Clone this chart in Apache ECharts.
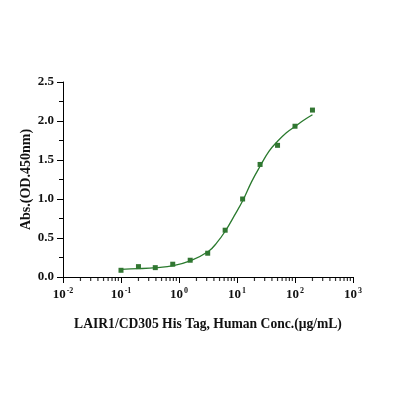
<!DOCTYPE html>
<html><head><meta charset="utf-8">
<script src="https://cdn.jsdelivr.net/npm/echarts@6/dist/echarts.min.js"></script>
<style>html,body{margin:0;padding:0;background:#fff}#c{width:395px;height:395px}</style>
</head><body><div id="c"></div>
<script>
const concentrations = [0.1, 0.2, 0.39, 0.78, 1.56, 3.125, 6.25, 12.5, 25, 50, 100, 200];
const absorbance = [0.086, 0.133, 0.12, 0.164, 0.215, 0.305, 0.60, 1.00, 1.443, 1.688, 1.933, 2.14];
const curveX = [0.1, 0.2, 0.4, 0.8, 1.6, 3.2, 4.5, 6.3, 8.9, 12.6, 17.8, 25, 35.5, 50, 71, 100, 141, 200];
const curveY = [0.099, 0.107, 0.12, 0.146, 0.21, 0.326, 0.44, 0.59, 0.78, 0.98, 1.22, 1.42, 1.61, 1.74, 1.85, 1.93, 2.01, 2.08];
const yTicks = [0, 0.5, 1.0, 1.5, 2.0, 2.5];
const xMajorTicks = [0.01, 0.1, 1, 10, 100, 1000];
const xMinorMultipliers = [2, 3, 4, 5, 6, 7, 8, 9];
const xName = 'LAIR1/CD305 His Tag, Human Conc.(μg/mL)';
const yName = 'Abs.(OD.450nm)';

const xMinorTicks = [];
xMajorTicks.slice(0, -1).forEach(d => xMinorMultipliers.forEach(m => xMinorTicks.push(+(d * m).toPrecision(3))));

const font = '"Liberation Serif", "Times New Roman", serif';
const chart = echarts.init(document.getElementById('c'));
chart.setOption({
  animation: false,
  grid: {left: 63, right: 42, top: 82, bottom: 118},
  xAxis: {
    type: 'log', logBase: 10, min: 0.01, max: 1000,
    name: xName, nameLocation: 'middle', nameGap: 40,
    nameTextStyle: {fontFamily: font, fontWeight: 'bold', fontSize: 13.6, color: '#111'},
    axisLine: {lineStyle: {color: '#000', width: 1}},
    axisTick: {show: true, inside: false, length: 6, lineStyle: {color: '#000', width: 1}},
    minorTick: {show: false},
    splitLine: {show: false},
    axisLabel: {
      margin: 10,
      formatter: function (v) {
        const e = Math.round(Math.log10(v));
        return '{b|10}{s|' + e + '}';
      },
      rich: {
        b: {fontFamily: font, fontWeight: 'bold', fontSize: 13, color: '#111'},
        s: {fontFamily: font, fontWeight: 'bold', fontSize: 8, color: '#111', verticalAlign: 'top', padding: [0,0,7,1]}
      }
    }
  },
  yAxis: {
    type: 'value', min: 0, max: 2.5, interval: 0.5,
    name: yName, nameLocation: 'middle', nameGap: 30, nameMoveOverlap: false,
    nameTextStyle: {fontFamily: font, fontWeight: 'bold', fontSize: 14, color: '#111'},
    axisLine: {show: true, lineStyle: {color: '#000', width: 1}},
    axisTick: {show: true, inside: false, length: 6, lineStyle: {color: '#000', width: 1}},
    minorTick: {show: true, splitNumber: 2, length: 4, lineStyle: {color: '#000', width: 1}},
    splitLine: {show: false},
    axisLabel: {
      margin: 9,
      fontFamily: font, fontWeight: 'bold', fontSize: 13, color: '#111',
      formatter: function (v) { return v.toFixed(1); }
    }
  },
  series: [
    {
      type: 'scatter', silent: true, clip: false, symbol: 'rect',
      symbolSize: [1.2, 4], symbolOffset: [0, 2],
      data: xMinorTicks.map(x => [x, 0]),
      itemStyle: {color: '#000'}, z: 1
    },
    {
      type: 'line', smooth: 0.4, showSymbol: false,
      data: curveX.map((x, i) => [x, curveY[i]]),
      lineStyle: {color: '#2a7a2e', width: 1.3}
    },
    {
      type: 'scatter', symbol: 'rect', symbolSize: 5,
      data: concentrations.map((x, i) => [x, absorbance[i]]),
      itemStyle: {color: '#005400'}
    }
  ]
});
</script></body></html>
